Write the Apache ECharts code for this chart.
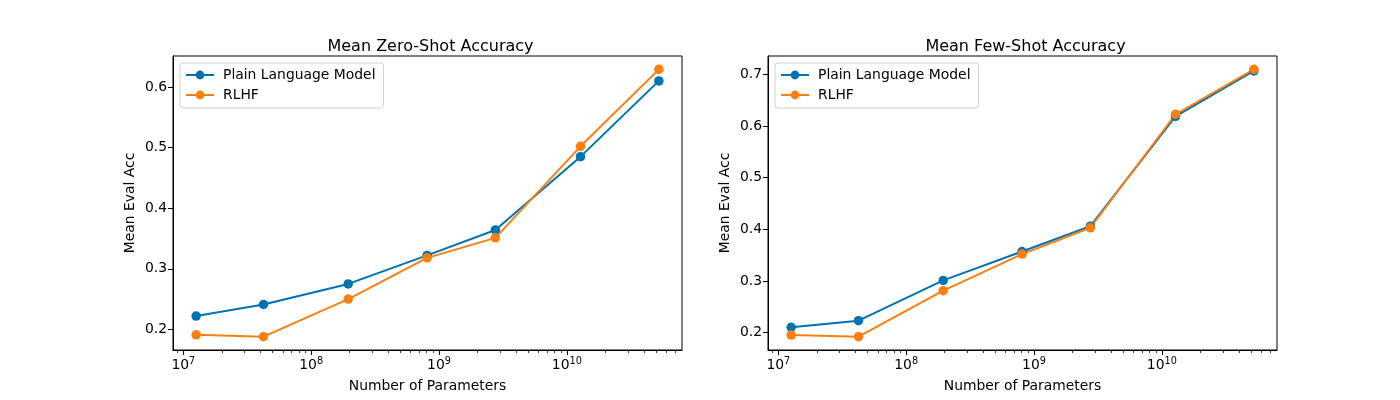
<!DOCTYPE html>
<html>
<head>
<meta charset="utf-8">
<script src="https://cdn.jsdelivr.net/npm/echarts@6/dist/echarts.min.js"></script>
<style>
html,body{margin:0;padding:0;background:#fff}
#chart{width:1400px;height:400px}
</style>
</head>
<body>
<div id="chart"></div>
<script>
// 数据
var params = [1.26e7, 4.24e7, 1.95e8, 8.07e8, 2.76e9, 1.28e10, 5.25e10];
var zeroShotPlain = [0.222, 0.241, 0.275, 0.322, 0.364, 0.485, 0.610];
var zeroShotRlhf  = [0.191, 0.188, 0.250, 0.318, 0.351, 0.502, 0.629];
var fewShotPlain  = [0.210, 0.223, 0.301, 0.357, 0.406, 0.619, 0.707];
var fewShotRlhf   = [0.195, 0.192, 0.281, 0.352, 0.403, 0.623, 0.710];
var titles = ['Mean Zero-Shot Accuracy', 'Mean Few-Shot Accuracy'];
var seriesNames = ['Plain Language Model', 'RLHF'];
var xTicks = [1e7, 1e8, 1e9, 1e10];
var yTicksZero = [0.2, 0.3, 0.4, 0.5, 0.6];
var yTicksFew = [0.2, 0.3, 0.4, 0.5, 0.6, 0.7];

var FONT = 'DejaVu Sans';
var BLUE = '#0072b2', ORANGE = '#ff7f0e';

// matplotlib style 5% margins
function logRange(arr){
	var lo = Math.log10(Math.min.apply(null, arr)), hi = Math.log10(Math.max.apply(null, arr));
	var m = (hi - lo) * 0.05;
	return [Math.pow(10, lo - m), Math.pow(10, hi + m)];
}
function linRange(a, b){
	var all = a.concat(b);
	var lo = Math.min.apply(null, all), hi = Math.max.apply(null, all);
	var m = (hi - lo) * 0.05;
	return [lo - m, hi + m];
}
var xr = logRange(params);

// minor ticks 2..9 x 10^n
var minorTicks = [];
for (var d = 6; d <= 10; d++) {
	for (var k = 2; k <= 9; k++) {
		var v = k * Math.pow(10, d);
		if (v > xr[0] && v < xr[1]) minorTicks.push(v);
	}
}

function pairs(vals){
	return params.map(function(p, i){ return [p, vals[i]]; });
}

var grids = [
	{left: 173, width: 509, top: 56, height: 294},
	{left: 768, width: 509, top: 56, height: 294}
];

var chart = echarts.init(document.getElementById('chart'));

var option = {
	animation: false,
	backgroundColor: '#fff',
	textStyle: {fontFamily: FONT},
	title: [],
	legend: [],
	grid: [],
	xAxis: [],
	yAxis: [],
	series: []
};

var ySets = [[zeroShotPlain, zeroShotRlhf, yTicksZero], [fewShotPlain, fewShotRlhf, yTicksFew]];

for (var g = 0; g < 2; g++) {
	var gr = grids[g];
	option.grid.push({
		left: gr.left, width: gr.width, top: gr.top, height: gr.height,
		show: true, borderColor: '#000', borderWidth: 1, backgroundColor: '#fff'
	});
	option.title.push({
		text: titles[g],
		left: gr.left + gr.width / 2 - 2,
		top: 34,
		textAlign: 'center',
		textStyle: {fontFamily: FONT, fontSize: 16, fontWeight: 'normal', color: '#000'}
	});
	// main x axis
	option.xAxis.push({
		type: 'log',
		gridIndex: g,
		min: xr[0],
		max: xr[1],
		name: 'Number of Parameters',
		nameLocation: 'middle',
		nameGap: 29,
		nameTextStyle: {fontFamily: FONT, fontSize: 13.9, color: '#000'},
		axisLine: {show: true, lineStyle: {color: '#000', width: 1}},
		axisTick: {show: true, length: 5, customValues: xTicks, lineStyle: {color: '#000', width: 1}},
		axisLabel: {
			customValues: xTicks,
			margin: 6,
			color: '#000',
			formatter: function(v){
				var e = Math.round(Math.log10(v));
				return '{b|10}{s|' + e + '}';
			},
			rich: {
				b: {fontFamily: FONT, fontSize: 13.9, color: '#000'},
				s: {fontFamily: FONT, fontSize: 9.7, color: '#000', padding: [0, 0, 9, 0]}
			}
		},
		splitLine: {show: false}
	});
	// minor ticks axis
	option.xAxis.push({
		type: 'log',
		gridIndex: g,
		min: xr[0],
		max: xr[1],
		position: 'bottom',
		axisLine: {show: false},
		axisTick: {show: true, length: 3, customValues: minorTicks, lineStyle: {color: '#000', width: 0.8}},
		axisLabel: {show: false},
		splitLine: {show: false}
	});
	var yr = linRange(ySets[g][0], ySets[g][1]);
	option.yAxis.push({
		type: 'value',
		gridIndex: g,
		min: yr[0],
		max: yr[1],
		name: 'Mean Eval Acc',
		nameLocation: 'middle',
		nameGap: 36,
		nameTextStyle: {fontFamily: FONT, fontSize: 13.9, color: '#000'},
		axisLine: {show: true, lineStyle: {color: '#000', width: 1}},
		axisTick: {show: true, length: 5, customValues: ySets[g][2], lineStyle: {color: '#000', width: 1}},
		axisLabel: {
			customValues: ySets[g][2],
			margin: 6,
			fontFamily: FONT, fontSize: 13.9, color: '#000',
			formatter: function(v){ return v.toFixed(1); }
		},
		splitLine: {show: false}
	});
	var lineData = [ySets[g][0], ySets[g][1]];
	var cols = [BLUE, ORANGE];
	for (var s = 0; s < 2; s++) {
		option.series.push({
			name: seriesNames[s],
			type: 'line',
			xAxisIndex: g * 2,
			yAxisIndex: g,
			data: pairs(lineData[s]),
			symbol: 'circle',
			symbolSize: 9.5,
			showSymbol: true,
			color: cols[s],
			lineStyle: {color: cols[s], width: 2},
			itemStyle: {color: cols[s]},
			emphasis: {disabled: true}
		});
	}
	option.legend.push({
		seriesIndex: [g * 2, g * 2 + 1],
		data: seriesNames,
		orient: 'vertical',
		left: gr.left + 7,
		top: 63,
		itemWidth: 28,
		itemHeight: 11,
		itemGap: 6,
		padding: [5, 8, 6, 5],
		borderColor: '#d0d0d0',
		borderWidth: 1,
		borderRadius: 3,
		backgroundColor: 'rgba(255,255,255,0.8)',
		textStyle: {fontFamily: FONT, fontSize: 13.9, color: '#000', padding: [0, 0, 0, 4]}
	});
}

chart.setOption(option);
</script>
</body>
</html>
